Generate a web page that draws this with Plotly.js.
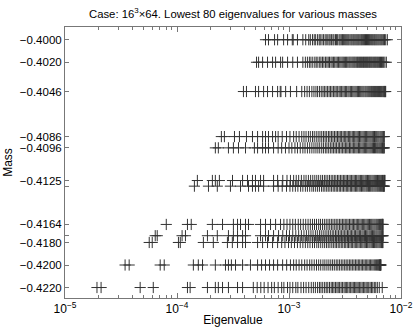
<!DOCTYPE html>
<html><head><meta charset="utf-8">
<script src="https://cdn.plot.ly/plotly-3.0.1.min.js"></script>
<style>html,body{margin:0;padding:0;background:#fff}#chart{width:415px;height:334px}</style>
</head><body><div id="chart"></div>
<script>
// Masses (one row each)
const masses = [-0.4000, -0.4020, -0.4046, -0.4086, -0.4096, -0.4125, -0.4130, -0.4164, -0.4174, -0.4180, -0.4200, -0.4220];
// Y tick labels (blank where the label is not printed)
const massLabels = ["\u22120.4000","\u22120.4020","\u22120.4046","\u22120.4086","\u22120.4096","\u22120.4125","","\u22120.4164","","\u22120.4180","\u22120.4200","\u22120.4220"];
// Eigenvalues, in units of 1e-3
const ev4000 = [0.617,0.656,0.743,0.791,0.895,0.971,1.07,1.09,1.19,1.33,1.41,1.50,
1.55,1.62,1.68,1.73,1.80,1.86,1.90,1.97,2.03,2.10,2.15,2.22,2.28,2.33,2.40,2.47,2.52,2.60,2.66,2.72,
2.80,2.86,2.93,3.00,3.06,3.14,3.21,3.28,3.35,3.42,3.50,3.58,3.65,3.73,3.80,3.88,3.96,4.04,4.12,4.20,
4.29,4.38,4.46,4.55,4.64,4.73,4.82,4.92,5.02,5.12,5.22,5.32,5.43,5.54,5.65,5.77,5.88,6.00,6.12,6.25,
6.38,6.52,6.66,6.80,6.96,7.12,7.30,7.55];
const ev4020 = [0.513,0.535,0.581,0.643,0.713,0.759,0.841,0.877,0.971,1.08,1.19,1.33,
1.40,1.46,1.52,1.57,1.63,1.70,1.75,1.81,1.88,1.93,1.99,2.05,2.12,2.18,2.24,2.30,2.37,2.43,2.50,2.56,
2.63,2.70,2.77,2.84,2.91,2.98,3.05,3.12,3.20,3.27,3.35,3.43,3.50,3.58,3.66,3.74,3.82,3.90,3.99,4.08,
4.16,4.25,4.34,4.43,4.52,4.62,4.71,4.81,4.91,5.01,5.11,5.22,5.32,5.43,5.54,5.66,5.78,5.90,6.02,6.15,
6.28,6.42,6.56,6.70,6.85,7.00,7.18,7.40];
const ev4046 = [0.392,0.417,0.502,0.535,0.593,0.643,0.713,0.791,0.835,0.848,0.933,1.03,1.17,1.30,1.38,1.45,1.52,
1.60,1.67,1.74,1.80,1.87,1.94,2.01,2.07,2.14,2.21,2.28,2.35,2.42,2.50,2.57,2.64,2.72,2.80,2.87,2.95,
3.03,3.11,3.19,3.27,3.36,3.44,3.53,3.62,3.71,3.80,3.89,3.98,4.08,4.17,4.27,4.37,4.47,4.57,4.67,4.78,
4.88,4.99,5.10,5.21,5.32,5.44,5.55,5.67,5.79,5.91,6.03,6.16,6.29,6.42,6.55,6.68,6.80,6.92,7.02,7.10,
7.18,7.24,7.30];
const ev4086 = [0.249,0.265,0.326,0.361,0.417,0.472,0.524,0.581,0.617,0.656,0.713,0.759,0.80,0.87,0.95,1.02,
1.10,1.16,1.23,1.30,1.36,1.42,1.49,1.55,1.62,1.68,1.75,1.82,1.89,1.96,2.03,2.10,2.17,2.25,2.32,2.40,
2.47,2.55,2.63,2.71,2.79,2.87,2.95,3.04,3.12,3.21,3.30,3.39,3.48,3.57,3.67,3.76,3.86,3.96,4.06,4.16,
4.26,4.37,4.48,4.59,4.70,4.81,4.93,5.05,5.17,5.29,5.41,5.54,5.67,5.80,5.94,6.07,6.21,6.35,6.50,6.64,
6.78,6.90,7.00,7.10];
const ev4096 = [0.220,0.234,0.288,0.319,0.354,0.409,0.491,0.524,0.581,0.617,0.656,0.728,0.80,0.86,0.93,
1.00,1.06,1.13,1.19,1.26,1.33,1.39,1.46,1.53,1.60,1.67,1.74,1.81,1.88,1.96,2.03,2.11,2.18,2.26,2.34,
2.42,2.50,2.58,2.66,2.75,2.83,2.92,3.01,3.10,3.19,3.28,3.37,3.47,3.56,3.66,3.76,3.86,3.96,4.06,4.17,
4.27,4.38,4.49,4.60,4.71,4.83,4.94,5.06,5.18,5.30,5.42,5.55,5.68,5.80,5.93,6.07,6.20,6.34,6.47,6.60,
6.72,6.84,6.94,7.02,7.10];
const ev4125 = [0.152,0.207,0.220,0.239,0.313,0.385,0.426,0.472,0.502,0.557,0.593,0.728,0.791,0.88,0.96,
1.03,1.10,1.16,1.22,1.29,1.36,1.42,1.49,1.56,1.63,1.70,1.77,1.84,1.92,1.99,2.07,2.14,2.22,2.30,2.38,
2.46,2.54,2.62,2.71,2.79,2.88,2.97,3.06,3.15,3.24,3.33,3.43,3.52,3.62,3.72,3.82,3.92,4.02,4.13,4.23,
4.34,4.45,4.56,4.67,4.79,4.90,5.02,5.14,5.26,5.38,5.51,5.64,5.77,5.90,6.03,6.17,6.31,6.45,6.59,6.72,
6.84,6.95,7.05,7.13,7.20];
const ev4130 = [0.143,0.191,0.229,0.300,0.369,0.435,0.472,0.502,0.535,0.593,0.728,0.80,0.87,0.95,
1.02,1.08,1.14,1.20,1.27,1.33,1.40,1.46,1.53,1.60,1.66,1.73,1.80,1.87,1.95,2.02,2.09,2.17,2.24,2.32,
2.40,2.48,2.56,2.64,2.72,2.81,2.89,2.98,3.07,3.16,3.25,3.34,3.43,3.53,3.62,3.72,3.82,3.92,4.02,4.12,
4.23,4.33,4.44,4.55,4.66,4.77,4.89,5.00,5.12,5.24,5.36,5.49,5.61,5.74,5.87,6.00,6.14,6.27,6.41,6.55,
6.68,6.80,6.90,6.98,7.05,7.10];
const ev4164 = [0.0802,0.124,0.134,0.207,0.255,0.319,0.347,0.369,0.409,0.435,0.557,0.617,0.684,0.759,
0.84,0.90,0.96,1.02,1.08,1.14,1.21,1.27,1.34,1.41,1.48,1.55,1.62,1.69,1.76,1.84,1.91,1.99,2.07,2.15,
2.23,2.31,2.39,2.47,2.56,2.64,2.73,2.82,2.91,3.00,3.09,3.18,3.28,3.37,3.47,3.57,3.67,3.77,3.87,3.98,
4.08,4.19,4.30,4.41,4.52,4.64,4.75,4.87,4.99,5.11,5.23,5.36,5.48,5.61,5.74,5.87,6.01,6.14,6.28,6.42,
6.55,6.66,6.75,6.82,6.87,6.92];
const ev4174 = [0.0639,0.0666,0.111,0.119,0.187,0.229,0.288,0.319,0.347,0.385,0.409,0.557,0.617,0.656,0.728,0.807,
0.88,0.95,1.01,1.08,1.15,1.22,1.29,1.36,1.43,1.50,1.57,1.64,1.72,1.79,1.87,1.94,2.02,2.10,2.18,2.26,
2.34,2.43,2.51,2.60,2.68,2.77,2.86,2.95,3.04,3.14,3.23,3.33,3.42,3.52,3.62,3.72,3.83,3.93,4.04,4.14,
4.25,4.36,4.48,4.59,4.71,4.82,4.94,5.06,5.19,5.31,5.44,5.57,5.70,5.83,5.97,6.10,6.24,6.38,6.51,6.63,
6.73,6.81,6.87,6.92];
const ev4180 = [0.0565,0.0601,0.103,0.107,0.172,0.211,0.282,0.312,0.347,0.385,0.409,0.524,0.581,0.643,0.713,0.791,
0.86,0.92,0.99,1.05,1.12,1.19,1.26,1.33,1.40,1.47,1.54,1.62,1.69,1.77,1.84,1.92,2.00,2.08,2.16,2.24,
2.32,2.41,2.49,2.58,2.66,2.75,2.84,2.93,3.02,3.12,3.21,3.31,3.40,3.50,3.60,3.70,3.81,3.91,4.02,4.12,
4.23,4.34,4.46,4.57,4.69,4.80,4.92,5.04,5.17,5.29,5.42,5.55,5.68,5.81,5.95,6.08,6.22,6.36,6.49,6.61,
6.71,6.79,6.85,6.90];
const ev4200 = [0.0344,0.0374,0.0708,0.0769,0.140,0.155,0.169,0.220,0.271,0.288,0.306,0.333,0.385,0.453,0.524,0.569,
0.617,0.670,0.728,0.791,0.877,0.953,1.03,1.10,
1.16,1.23,1.30,1.38,1.45,1.53,1.60,1.68,1.76,1.84,1.92,2.01,2.09,2.18,2.27,2.36,2.45,2.54,2.64,2.73,
2.83,2.93,3.03,3.14,3.24,3.35,3.46,3.57,3.68,3.80,3.92,4.04,4.16,4.28,4.41,4.54,4.67,4.80,4.94,5.07,
5.21,5.35,5.49,5.63,5.77,5.90,6.03,6.15,6.26,6.35,6.42,6.48,6.52,6.56,6.59,6.62];
const ev4220 = [0.0193,0.0210,0.0469,0.0614,0.124,0.131,0.187,0.220,0.234,0.255,0.288,0.347,0.385,
0.48,0.52,0.56,0.60,0.65,0.70,0.74,0.80,0.86,0.90,0.97,1.02,1.08,1.15,1.20,1.28,1.35,1.42,1.50,1.58,
1.65,1.72,1.80,1.87,1.93,2.00,2.08,2.15,2.22,2.30,2.38,2.45,2.52,2.60,2.68,2.75,2.83,2.92,3.00,3.10,
3.18,3.27,3.35,3.45,3.55,3.65,3.75,3.85,3.95,4.05,4.15,4.27,4.38,4.50,4.62,4.75,4.88,5.00,5.15,5.30,
5.45,5.60,5.78,5.95,6.15,6.40,6.80];
const eigenRows = [ev4000, ev4020, ev4046, ev4086, ev4096, ev4125, ev4130, ev4164, ev4174, ev4180, ev4200, ev4220];
const UNIT = 1e-3;

const xTickVals = [1e-5, 1e-4, 1e-3, 1e-2];
const xTickText = ["10<sup>\u22125</sup>","10<sup>\u22124</sup>","10<sup>\u22123</sup>","10<sup>\u22122</sup>"];
const xMinor = [];
[1e-5,1e-4,1e-3].forEach(d => { for (let k = 2; k <= 9; k++) xMinor.push(k*d); });

const traces = masses.map((m, i) => ({
  type: 'scatter', mode: 'markers',
  x: eigenRows[i].map(v => v*UNIT),
  y: eigenRows[i].map(() => m),
  marker: {symbol: 'cross-thin-open', size: 8, color: '#333', line: {width: 1, color: '#333'}},
  hoverinfo: 'x+y', showlegend: false
}));

const font = {family: 'Liberation Sans, Arial, sans-serif', size: 12, color: '#000'};
const layout = {
  width: 415, height: 334,
  margin: {l: 65, r: 14, t: 27, b: 36},
  paper_bgcolor: '#fff', plot_bgcolor: '#fff',
  font: font,
  showlegend: false,
  title: {text: 'Case: 16<sup>3</sup>\u00d764. Lowest 80 eigenvalues for various masses',
          font: {family: font.family, size: 11.3, color: '#000'},
          x: 0.5, xref: 'paper', xanchor: 'center', y: 0.958, yref: 'container', yanchor: 'middle'},
  xaxis: {
    type: 'log', range: [-5, -2],
    tickmode: 'array', tickvals: xTickVals, ticktext: xTickText,
    ticks: 'inside', ticklen: 5, tickcolor: '#777', tickwidth: 1,
    minor: {tickmode: 'array', tickvals: xMinor, ticks: 'inside', ticklen: 3, tickcolor: '#777', showgrid: false},
    showline: true, linecolor: '#777', linewidth: 1, mirror: 'ticks',
    showgrid: false, zeroline: false,
    tickfont: {family: font.family, size: 12, color: '#000'},
    title: {text: 'Eigenvalue', font: {family: font.family, size: 12, color: '#000'}, standoff: 0}
  },
  yaxis: {
    range: [-0.42293, -0.39887],
    tickmode: 'array', tickvals: masses, ticktext: massLabels,
    ticks: 'inside', ticklen: 4, tickcolor: '#777', tickwidth: 1,
    showline: true, linecolor: '#777', linewidth: 1, mirror: 'ticks',
    showgrid: false, zeroline: false,
    tickfont: {family: font.family, size: 11.5, color: '#000'},
    title: {text: 'Mass', font: {family: font.family, size: 12, color: '#000'}, standoff: 4}
  }
};
Plotly.newPlot('chart', traces, layout, {displayModeBar: false, staticPlot: true});
</script>
</body></html>
